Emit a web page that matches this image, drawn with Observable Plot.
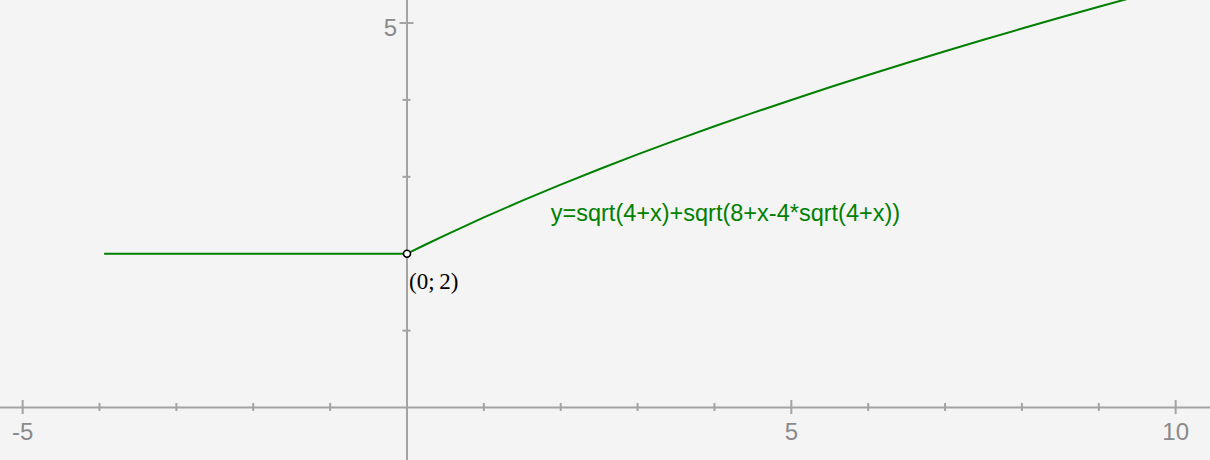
<!DOCTYPE html>
<html>
<head>
<meta charset="utf-8">
<script src="https://cdn.jsdelivr.net/npm/d3@7"></script>
<script src="https://cdn.jsdelivr.net/npm/@observablehq/plot@0.6"></script>
<style>
  html, body { margin: 0; padding: 0; background: #f4f4f4; }
  #chart { width: 1210px; height: 460px; }
</style>
</head>
<body>
<div id="chart"></div>
<script>
// Curve values (y = sqrt(4+x)+sqrt(8+x-4*sqrt(4+x)))
const curveX = [-3.93, -2, 0, 0.25, 0.5, 1, 1.5, 2, 2.5, 3, 3.5, 4, 4.5, 5, 5.5, 6, 6.5, 7, 7.5, 8, 8.5, 9, 9.5];
const curveY = [2, 2, 2, 2.123, 2.243, 2.472, 2.690, 2.899, 3.099, 3.292, 3.477, 3.657, 3.831, 4.0, 4.164, 4.325, 4.481, 4.633, 4.782, 4.928, 5.071, 5.211, 5.349];

// Axis ticks
const xMajor = [-5, 5, 10];
const xMajorLabels = ["-5", "5", "10"];
const xMinor = [-4, -3, -2, -1, 1, 2, 3, 4, 6, 7, 8, 9];
const yMajor = [5];
const yMajorLabels = ["5"];
const yMinor = [1, 2, 3, 4];

// Special point
const pointX = [0];
const pointY = [2];
const pointLabels = ["(0;\u20092)"];

const equation = "y=sqrt(4+x)+sqrt(8+x-4*sqrt(4+x))";

const curve = curveX.map((x, i) => ({x, y: curveY[i]}));
const points = pointX.map((x, i) => ({x, y: pointY[i], label: pointLabels[i]}));

const axisColor = "#a3a3a3";
const labelColor = "#8a8a8a";
const green = "#008000";

const chart = Plot.plot({
  width: 1210,
  height: 460,
  margin: 0,
  x: {domain: [-5.288, 10.453], axis: null},
  y: {domain: [-0.689, 5.293], axis: null},
  style: {background: "#f4f4f4", overflow: "hidden"},
  marks: [
    // axes
    Plot.ruleY([0], {stroke: axisColor, strokeWidth: 2}),
    Plot.ruleX([0], {stroke: axisColor, strokeWidth: 2}),
    // x ticks
    Plot.ruleX(xMinor, {x: d => d, y1: 0, y2: 0, insetTop: -4, insetBottom: -4, stroke: axisColor, strokeWidth: 2}),
    Plot.ruleX(xMajor, {x: d => d, y1: 0, y2: 0, insetTop: -7, insetBottom: -7, stroke: axisColor, strokeWidth: 2}),
    // y ticks
    Plot.ruleY(yMinor, {y: d => d, x1: 0, x2: 0, insetLeft: -4, insetRight: -4, stroke: axisColor, strokeWidth: 2}),
    Plot.ruleY(yMajor, {y: d => d, x1: 0, x2: 0, insetLeft: -7, insetRight: -7, stroke: axisColor, strokeWidth: 2}),
    // tick labels
    Plot.text(xMajor, {x: d => d, y: 0, text: (d, i) => xMajorLabels[i], dy: 25, fill: labelColor,
      fontSize: 24, fontFamily: "Liberation Sans, Arial, sans-serif", textAnchor: "middle"}),
    Plot.text(yMajor, {x: 0, y: d => d, text: (d, i) => yMajorLabels[i], dx: -10, dy: 5, fill: labelColor,
      fontSize: 24, fontFamily: "Liberation Sans, Arial, sans-serif", textAnchor: "end"}),
    // function curve
    Plot.line(curve, {x: "x", y: "y", stroke: green, strokeWidth: 2, clip: true}),
    // equation label
    Plot.text([equation], {x: 1.87, y: 2.52, text: d => d, fill: green, fontSize: 23.5,
      fontFamily: "Liberation Sans, Arial, sans-serif", textAnchor: "start"}),
    // special point
    Plot.dot(points, {x: "x", y: "y", r: 3.5, fill: "white", stroke: "black", strokeWidth: 1.6}),
    Plot.text(points, {x: "x", y: "y", text: "label", dx: 2, dy: 28, fill: "black", fontSize: 23,
      fontFamily: "Liberation Serif, Times New Roman, serif", textAnchor: "start"})
  ]
});
document.getElementById("chart").appendChild(chart);
</script>
</body>
</html>
